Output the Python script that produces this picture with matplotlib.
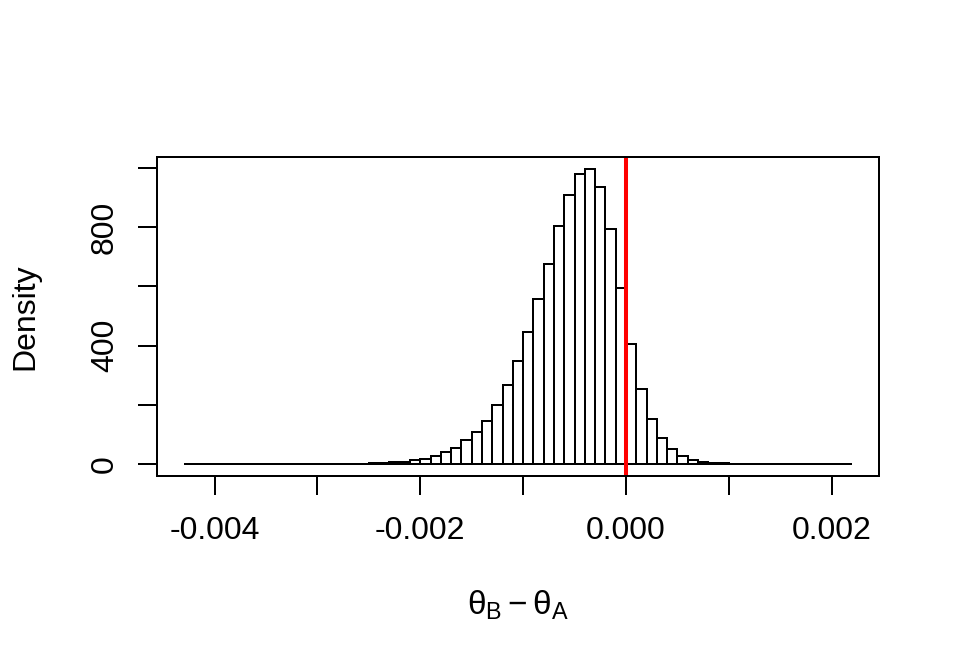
import matplotlib
matplotlib.use("Agg")
import matplotlib.pyplot as plt
import numpy as np

plt.rcParams["font.family"] = ["Liberation Sans", "DejaVu Sans"]
plt.rcParams["mathtext.fontset"] = "custom"
plt.rcParams["mathtext.rm"] = "Liberation Sans"
plt.rcParams["mathtext.it"] = "Liberation Sans"

# histogram of theta_B - theta_A (density scale), bin width 0.0001
bin_width = 0.0001
bin_start = -0.0043
# left tail, left edges -0.0043 .. -0.0024
dens_tail_left = [0.02, 0.02, 0.03, 0.04, 0.05, 0.06, 0.08, 0.1, 0.12, 0.15,
                  0.2, 0.25, 0.35, 0.5, 0.7, 1.0, 1.4, 2.0, 3.0, 4.0]
# left edges -0.0023 .. -0.0001
dens_body = [6, 9, 13.5, 19, 29, 40, 56, 80, 107, 146, 199, 266,
             348, 445, 556, 677, 805, 910, 979, 997, 935, 794, 594]
# left edges 0.0000 .. 0.0021
dens_right = [404, 253, 152, 89, 50, 28, 14, 8, 5, 3, 2.0, 1.2,
              0.8, 0.5, 0.3, 0.2, 0.15, 0.1, 0.05, 0.05, 0.03, 0.02]

x_ticks = [-0.004, -0.003, -0.002, -0.001, 0.0, 0.001, 0.002]
x_labels = ["-0.004", "", "-0.002", "", "0.000", "", "0.002"]
y_ticks = [0, 200, 400, 600, 800, 1000]
y_labels = ["0", "", "400", "", "800", ""]

density = dens_tail_left + dens_body + dens_right
n_bins = len(density)
edges = bin_start + bin_width * np.arange(n_bins)

fig = plt.figure(figsize=(9.6, 6.72), dpi=100)
ax = fig.add_axes([157 / 960, 1 - 476 / 672, 722 / 960, 319 / 672])

ax.bar(edges, density, width=bin_width, align="edge",
       facecolor="white", edgecolor="black", linewidth=1.44)
ax.axvline(0.0, color="red", linewidth=2.9)

x_lo, x_hi = edges[0], edges[-1] + bin_width
pad_x = 0.04 * (x_hi - x_lo)
ymax = max(density)
ax.set_xlim(x_lo - pad_x, x_hi + pad_x)
ax.set_ylim(-0.04 * ymax, 1.04 * ymax)

ax.set_xticks(x_ticks)
ax.set_xticklabels(x_labels)
ax.set_yticks(y_ticks)
ax.set_yticklabels(y_labels, rotation=90, va="center")

ax.tick_params(axis="both", direction="out", length=13.8, width=1.44,
               labelsize=23)
ax.tick_params(axis="x", pad=15)
ax.tick_params(axis="y", pad=13)

for sp in ax.spines.values():
    sp.set_linewidth(1.44)

ax.set_ylabel("Density", fontsize=23)
ax.yaxis.set_label_coords((25 - 157) / 722, 0.5)
ax.yaxis.label.set_va("center")

ax.set_xlabel(r"$\mathrm{\theta}_\mathrm{B} - \mathrm{\theta}_\mathrm{A}$",
              fontsize=24)
ax.xaxis.set_label_coords(0.5, (476 - 605) / 319)
ax.xaxis.label.set_va("center")

fig.savefig("out.png", dpi=100)
